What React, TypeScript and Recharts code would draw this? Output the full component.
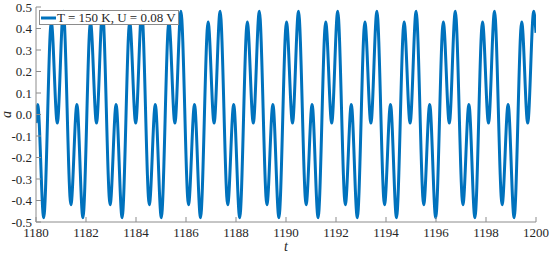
import { LineChart, Line, XAxis, YAxis, Legend } from 'recharts';

// extrema (t, a); the curve passes through them smoothly
const TIMES = [
  1180.0, 1180.068, 1180.308, 1180.612, 1180.852,
  1181.092, 1181.396, 1181.636, 1181.876, 1182.18, 1182.42,
  1182.66, 1182.964, 1183.204, 1183.444, 1183.748, 1183.988,
  1184.228, 1184.532, 1184.772, 1185.012, 1185.316, 1185.556,
  1185.796, 1186.1, 1186.34, 1186.58, 1186.884, 1187.124,
  1187.364, 1187.668, 1187.908, 1188.148, 1188.452, 1188.692,
  1188.932, 1189.236, 1189.476, 1189.716, 1190.02, 1190.26,
  1190.5, 1190.804, 1191.044, 1191.284, 1191.588, 1191.828,
  1192.068, 1192.372, 1192.612, 1192.852, 1193.156, 1193.396,
  1193.636, 1193.94, 1194.18, 1194.42, 1194.724, 1194.964,
  1195.204, 1195.508, 1195.748, 1195.988, 1196.292, 1196.532,
  1196.772, 1197.076, 1197.316, 1197.556, 1197.86, 1198.1,
  1198.34, 1198.644, 1198.884, 1199.124, 1199.428, 1199.668,
  1199.908, 1200.0,
];

const VALUES = [
  -0.04, 0.046, -0.48, 0.43, -0.04,
  0.48, -0.42, 0.046, -0.48, 0.43, -0.04,
  0.48, -0.42, 0.046, -0.48, 0.43, -0.04,
  0.48, -0.42, 0.046, -0.48, 0.43, -0.04,
  0.48, -0.42, 0.046, -0.48, 0.43, -0.04,
  0.48, -0.42, 0.046, -0.48, 0.43, -0.04,
  0.48, -0.42, 0.046, -0.48, 0.43, -0.04,
  0.48, -0.42, 0.046, -0.48, 0.43, -0.04,
  0.48, -0.42, 0.046, -0.48, 0.43, -0.04,
  0.48, -0.42, 0.046, -0.48, 0.43, -0.04,
  0.48, -0.42, 0.046, -0.48, 0.43, -0.04,
  0.48, -0.42, 0.046, -0.48, 0.43, -0.04,
  0.48, -0.42, 0.046, -0.48, 0.43, -0.04,
  0.48, 0.38,
];

const X_TICKS = [1180, 1182, 1184, 1186, 1188, 1190, 1192, 1194, 1196, 1198, 1200];
const Y_TICKS = [-0.5, -0.4, -0.3, -0.2, -0.1, 0, 0.1, 0.2, 0.3, 0.4, 0.5];

const SERIES_NAME = 'T = 150 K, U = 0.08 V';
const LINE_COLOR = '#0072BD';
const AXIS_COLOR = '#8c8c8c';
const TEXT_COLOR = '#262626';
const FONT = '"Liberation Serif", "Times New Roman", serif';

const data = TIMES.map((t, i) => ({ t, a: VALUES[i] }));

function XTick({ x, y, payload }: any) {
  return (
    <text x={x} y={y} dy="0.71em" textAnchor="middle" fill={TEXT_COLOR} fontSize={13} fontFamily={FONT}>
      {payload.value}
    </text>
  );
}

function YTick({ x, y, payload }: any) {
  return (
    <text x={x} y={y} dy="0.36em" textAnchor="end" fill={TEXT_COLOR} fontSize={13} fontFamily={FONT}>
      {Number(payload.value).toFixed(1)}
    </text>
  );
}

function XLabel({ viewBox }: any) {
  const { x, y, width, height } = viewBox;
  return (
    <text x={x + width / 2} y={y + height - 6} textAnchor="middle" fill={TEXT_COLOR} fontSize={14}
      fontFamily={FONT} fontStyle="italic">
      t
    </text>
  );
}

function YLabel({ viewBox }: any) {
  const { x, y, height } = viewBox;
  const cx = x + 1;
  const cy = y + height / 2;
  return (
    <text x={cx} y={cy} dy="0.3em" textAnchor="middle" fill={TEXT_COLOR} fontSize={14}
      transform={`rotate(-90 ${cx} ${cy})`} fontFamily={FONT} fontStyle="italic">
      a
    </text>
  );
}

function LegendBox({ payload }: any) {
  return (
    <div
      style={{
        background: '#fff',
        border: `1px solid ${AXIS_COLOR}`,
        display: 'flex',
        alignItems: 'center',
        height: 13,
        padding: '0 2px 0 1px',
        fontFamily: FONT,
        fontSize: 13,
        lineHeight: '13px',
        color: TEXT_COLOR,
        whiteSpace: 'nowrap',
      }}
    >
      {(payload || []).map((p: any) => (
        <span key={p.value} style={{ display: 'flex', alignItems: 'center' }}>
          <svg width={15} height={4} style={{ marginRight: 1 }}>
            <line x1={0} y1={2} x2={15} y2={2} stroke={p.color} strokeWidth={3} />
          </svg>
          {p.value}
        </span>
      ))}
    </div>
  );
}

export default function App() {
  return (
    <div style={{ position: 'absolute', left: 0, top: 0, background: '#fff', fontFamily: FONT }}>
      <LineChart width={550} height={257} data={data} margin={{ top: 7, right: 14, bottom: 0, left: 6 }}>
        <XAxis
          dataKey="t"
          type="number"
          domain={[1180, 1200]}
          ticks={X_TICKS}
          interval={0}
          allowDataOverflow
          height={35}
          stroke={AXIS_COLOR}
          tickSize={-5}
          tickMargin={11}
          tick={<XTick />}
          label={<XLabel />}
        />
        <XAxis
          xAxisId="top"
          orientation="top"
          type="number"
          domain={[1180, 1200]}
          ticks={X_TICKS}
          interval={0}
          allowDataOverflow
          height={0}
          stroke={AXIS_COLOR}
          tickSize={-5}
          tick={false}
        />
        <YAxis
          type="number"
          domain={[-0.5, 0.5]}
          ticks={Y_TICKS}
          interval={0}
          allowDataOverflow
          width={30}
          stroke={AXIS_COLOR}
          tickSize={-5}
          tickMargin={9}
          tick={<YTick />}
          label={<YLabel />}
        />
        <YAxis
          yAxisId="right"
          orientation="right"
          type="number"
          domain={[-0.5, 0.5]}
          ticks={Y_TICKS}
          interval={0}
          allowDataOverflow
          width={0}
          stroke={AXIS_COLOR}
          tickSize={-5}
          tick={false}
        />
        <Legend
          layout="horizontal"
          verticalAlign="middle"
          wrapperStyle={{ left: 39, top: 10, width: 'auto', height: 'auto' }}
          content={<LegendBox />}
        />
        <Line
          type="monotone"
          dataKey="a"
          name={SERIES_NAME}
          stroke={LINE_COLOR}
          strokeWidth={3}
          dot={false}
          isAnimationActive={false}
        />
      </LineChart>
    </div>
  );
}
